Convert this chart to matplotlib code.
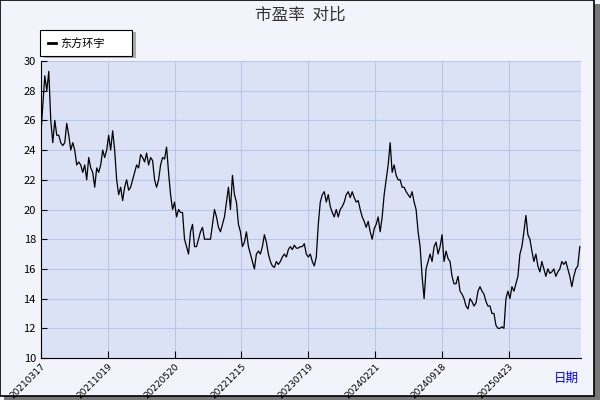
import matplotlib.pyplot as plt
import numpy as np
from matplotlib.patches import Rectangle

plt.rcParams['font.family'] = ['Noto Sans CJK SC', 'DejaVu Sans']

# PE ratio series (roughly one point every other pixel)
pe = [25, 27, 29, 28, 29.3, 26, 24.5, 26, 25, 25, 24.5, 24.3, 24.5, 25.8, 25, 24, 24.5, 24, 23, 23.2,
      23, 22.5, 23, 22, 23.5, 22.8, 22.5, 21.5, 22.8, 22.5, 23, 24, 23.5, 24, 25, 24, 25.3, 24, 22, 21,
      21.5, 20.6, 21.5, 22, 21.3, 21.5, 22, 22.5, 23, 22.8, 23.7, 23.5, 23.2, 23.8, 23, 23.5, 23.3, 22, 21.5, 22,
      23, 23.5, 23.4, 24.2, 22.5, 21, 20, 20.5, 19.5, 20, 19.8, 19.8, 18, 17.5, 17, 18.5, 19, 17.5, 17.5, 18,
      18.5, 18.8, 18, 18, 18, 18, 19, 20, 19.5, 18.8, 18.5, 19, 19.5, 20.5, 21.5, 20, 22.3, 21, 20.5, 19,
      18.5, 17.5, 17.8, 18.5, 17.5, 17, 16.5, 16, 17, 17.2, 17, 17.5, 18.3, 17.8, 17, 16.5, 16.2, 16.1, 16.5, 16.3,
      16.5, 16.8, 17, 16.8, 17.3, 17.5, 17.3, 17.6, 17.4, 17.4, 17.5, 17.5, 17.7, 17, 16.8, 17, 16.5, 16.2, 16.8, 19,
      20.5, 21, 21.2, 20.5, 21, 20.2, 19.8, 19.5, 20, 19.5, 20, 20.2, 20.5, 21, 21.2, 20.8, 21.2, 20.8, 20.5, 20.6,
      20, 19.5, 19.2, 18.8, 19.2, 18.5, 18, 18.7, 19, 19.5, 18.5, 19.5, 21, 22, 23, 24.5, 22.5, 23, 22.3, 22,
      22, 21.5, 21.5, 21.2, 21, 20.8, 21.2, 20.5, 20, 18.5, 17.5, 15.5, 14, 16, 16.5, 17, 16.5, 17.5, 17.8, 17,
      17.5, 18.3, 16.5, 17.2, 16.7, 16.5, 15.5, 15, 15, 15.5, 14.5, 14.3, 14, 13.5, 13.3, 14, 13.8, 13.5, 13.7, 14.5,
      14.8, 14.5, 14.3, 13.8, 13.5, 13.5, 13, 13, 12.2, 12, 12, 12.1, 12, 14, 14.5, 14, 14.8, 14.5, 15, 15.5,
      17, 17.5, 18.5, 19.6, 18.3, 18, 17.2, 16.5, 17, 16.2, 15.8, 16.5, 16, 15.5, 16, 15.7, 15.8, 16, 15.5, 15.8,
      16, 16.5, 16.3, 16.5, 16, 15.5, 14.8, 15.5, 16, 16.2, 17.5]
date_labels = ['20210317', '20211019', '20220520', '20221215', '20230719', '20240221', '20240918', '20250423']
yticks = [10, 12, 14, 16, 18, 20, 22, 24, 26, 28, 30]

fig = plt.figure(figsize=(6, 4), dpi=100, facecolor='#F3F3FB')
# outer frame with shadow
fig.patches.append(Rectangle((0.006, 0.0), 0.994, 0.99, transform=fig.transFigure, fc='#777777', ec='none', zorder=-2))
fig.patches.append(Rectangle((0.0, 0.01), 0.99, 0.99, transform=fig.transFigure, fc='#F3F3FB', ec='black', lw=1.2, zorder=-1))

ax = fig.add_axes([0.068, 0.105, 0.9, 0.7425])
ax.set_zorder(2)
ax.set_facecolor('#DCE2F6')
x = np.arange(len(pe))
ax.plot(x, pe, color='black', lw=0.9)
ax.set_xlim(0, len(pe) - 0.5)
ax.set_ylim(10, 30)
ax.set_yticks(yticks)
tick_pos = [i * 33.5 for i in range(len(date_labels))]
ax.set_xticks(tick_pos)
ax.set_xticklabels(date_labels, rotation=45, ha='right', rotation_mode='anchor', fontsize=6.5, family='DejaVu Sans')
ax.tick_params(axis='y', labelsize=8, length=4, direction='in')
ax.tick_params(axis='x', length=5, direction='in', pad=3)
ax.grid(True, color='#B8C6EA', lw=0.8)
for s in ['top', 'right']:
    ax.spines[s].set_visible(False)

fig.text(0.5, 0.962, '市盈率  对比', ha='center', va='center', fontsize=12, color='#333333')
fig.text(0.965, 0.055, '日期', ha='right', va='center', fontsize=9, color='blue', zorder=5)

# legend box with shadow
fig.patches.append(Rectangle((0.073, 0.855), 0.153, 0.065, transform=fig.transFigure, fc='#AAAAAA', ec='none', zorder=3))
fig.patches.append(Rectangle((0.067, 0.86), 0.153, 0.065, transform=fig.transFigure, fc='white', ec='black', lw=0.8, zorder=3))
fig.lines.append(plt.Line2D([0.08, 0.093], [0.8925, 0.8925], transform=fig.transFigure, color='black', lw=2, zorder=4))
fig.text(0.1, 0.8925, '东方环宇', va='center', fontsize=8, zorder=4)

fig.savefig('out.png', dpi=100, facecolor=fig.get_facecolor())
